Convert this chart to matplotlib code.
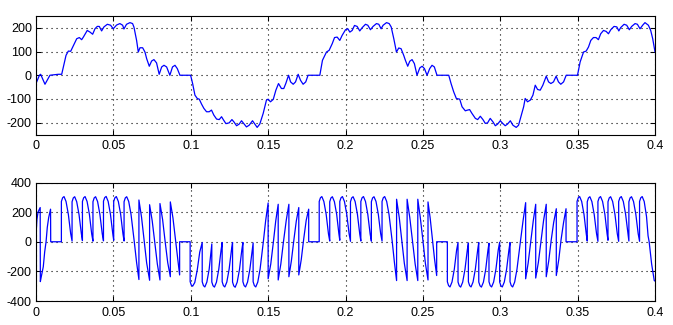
import numpy as np
import matplotlib
matplotlib.use("Agg")
import matplotlib.pyplot as plt

# Load current (top trace) as (time s, value) vertices
current_pts = [
    (0.0000, -35), (0.0022, 0), (0.0030, 4), (0.0058, -38), (0.0090, 0), (0.0144, 4), (0.0166, 4),
    (0.0194, 84), (0.0209, 102), (0.0224, 101), (0.0237, 119), (0.0263, 154), (0.0280, 159),
    (0.0295, 150), (0.0306, 161), (0.0331, 189), (0.0349, 182), (0.0366, 173), (0.0381, 196),
    (0.0396, 206), (0.0409, 206), (0.0424, 187), (0.0439, 204), (0.0461, 215), (0.0482, 211),
    (0.0499, 196), (0.0521, 212), (0.0542, 218), (0.0560, 211), (0.0568, 195), (0.0585, 215),
    (0.0607, 222), (0.0624, 218), (0.0633, 203), (0.0650, 147), (0.0661, 98), (0.0672, 116),
    (0.0689, 116), (0.0704, 98), (0.0715, 70), (0.0732, 38), (0.0747, 60), (0.0762, 66),
    (0.0779, 52), (0.0796, 4), (0.0812, 35), (0.0827, 42), (0.0844, 35), (0.0865, 0),
    (0.0882, 35), (0.0898, 42), (0.0913, 28), (0.0930, 0), (0.0999, 0),
    (0.1012, -35), (0.1027, -84), (0.1042, -98), (0.1055, -101), (0.1070, -122), (0.1085, -140),
    (0.1102, -154), (0.1119, -154), (0.1134, -147), (0.1149, -168), (0.1167, -185), (0.1184, -187),
    (0.1199, -175), (0.1210, -187), (0.1227, -204), (0.1248, -201), (0.1266, -187), (0.1279, -197),
    (0.1296, -213), (0.1313, -206), (0.1328, -192), (0.1343, -204), (0.1360, -218), (0.1377, -211),
    (0.1399, -192), (0.1414, -206), (0.1429, -220), (0.1446, -206), (0.1468, -161), (0.1489, -105),
    (0.1500, -101), (0.1515, -112), (0.1533, -102), (0.1550, -63), (0.1567, -35), (0.1586, -56),
    (0.1601, -56), (0.1614, -35), (0.1632, 0), (0.1645, -28), (0.1662, -38), (0.1677, -28),
    (0.1694, 4), (0.1709, -21), (0.1726, -38), (0.1743, -28), (0.1758, 0), (0.1834, 0),
    (0.1851, 63), (0.1877, 98), (0.1894, 105), (0.1914, 133), (0.1929, 159), (0.1946, 161),
    (0.1963, 147), (0.1978, 168), (0.2000, 192), (0.2015, 196), (0.2028, 182), (0.2043, 189),
    (0.2058, 210), (0.2075, 206), (0.2092, 187), (0.2108, 201), (0.2129, 215), (0.2144, 211),
    (0.2161, 192), (0.2178, 206), (0.2200, 218), (0.2215, 215), (0.2230, 196), (0.2243, 211),
    (0.2265, 222), (0.2282, 218), (0.2295, 204), (0.2312, 154), (0.2329, 98), (0.2344, 115),
    (0.2359, 112), (0.2376, 84), (0.2387, 63), (0.2402, 38), (0.2415, 59), (0.2430, 66),
    (0.2445, 49), (0.2462, 0), (0.2480, 31), (0.2495, 38), (0.2510, 28), (0.2527, 0),
    (0.2544, 28), (0.2559, 42), (0.2574, 35), (0.2591, 0), (0.2667, 0),
    (0.2682, -35), (0.2699, -70), (0.2716, -98), (0.2738, -101), (0.2753, -133), (0.2774, -150),
    (0.2789, -147), (0.2802, -145), (0.2817, -161), (0.2839, -182), (0.2854, -187), (0.2871, -173),
    (0.2888, -187), (0.2903, -203), (0.2918, -201), (0.2935, -182), (0.2953, -197), (0.2968, -213),
    (0.2983, -206), (0.3000, -192), (0.3017, -204), (0.3032, -213), (0.3047, -206), (0.3065, -192),
    (0.3082, -211), (0.3103, -220), (0.3118, -211), (0.3133, -175), (0.3151, -133), (0.3161, -98),
    (0.3176, -112), (0.3194, -105), (0.3211, -84), (0.3226, -42), (0.3241, -60), (0.3258, -63),
    (0.3275, -42), (0.3297, -4), (0.3312, -28), (0.3327, -35), (0.3344, -28), (0.3361, -4),
    (0.3376, -28), (0.3391, -38), (0.3409, -28), (0.3426, 0), (0.3499, 0),
    (0.3516, 56), (0.3538, 98), (0.3555, 102), (0.3570, 119), (0.3585, 147), (0.3602, 159),
    (0.3619, 159), (0.3634, 150), (0.3649, 175), (0.3667, 189), (0.3684, 185), (0.3699, 175),
    (0.3714, 192), (0.3735, 206), (0.3753, 204), (0.3766, 187), (0.3778, 201), (0.3800, 215),
    (0.3817, 211), (0.3834, 192), (0.3849, 206), (0.3871, 218), (0.3886, 215), (0.3903, 196),
    (0.3920, 211), (0.3935, 222), (0.3957, 211), (0.3972, 189), (0.3985, 154), (0.4000, 98),
]

# Output voltage (bottom trace), split by region, (time s, value) vertices
v_start = [
    (0.0000, 0), (0.0002, 80), (0.0006, 150), (0.0013, 200), (0.0027, 231), (0.0028, -269),
    (0.0034, -236), (0.0047, -169), (0.0056, -69), (0.0065, 0), (0.0073, 98), (0.0082, 164),
    (0.0094, 220), (0.0095, 0), (0.0164, 0),
]
v_pos1 = [
    (0.0164, 272), (0.0172, 297), (0.0181, 305), (0.0194, 272), (0.0209, 185), (0.0224, 55), (0.0233, 5),
    (0.0233, 270), (0.0241, 296), (0.0250, 304), (0.0263, 270), (0.0278, 184), (0.0293, 55), (0.0300, 8),
    (0.0300, 272), (0.0308, 297), (0.0317, 305), (0.0330, 272), (0.0345, 185), (0.0360, 52), (0.0368, 4),
    (0.0368, 270), (0.0376, 296), (0.0385, 304), (0.0398, 271), (0.0413, 184), (0.0428, 54), (0.0436, 6),
    (0.0436, 274), (0.0444, 298), (0.0453, 306), (0.0466, 273), (0.0481, 186), (0.0496, 55), (0.0502, 10),
    (0.0502, 272), (0.0510, 297), (0.0519, 305), (0.0532, 272), (0.0547, 185), (0.0562, 52), (0.0569, 5),
    (0.0569, 270), (0.0577, 296), (0.0586, 304), (0.0599, 272), (0.0614, 185), (0.0629, 53),
    (0.0635, 0), (0.0650, -140), (0.0665, -255),
]
v_fall1 = [
    (0.0665, 282), (0.0682, 165), (0.0698, 15), (0.0715, -143), (0.0734, -260),
    (0.0734, 250), (0.0751, 140), (0.0767, 0), (0.0784, -150), (0.0801, -258),
    (0.0801, 258), (0.0818, 150), (0.0834, 5), (0.0851, -140), (0.0868, -236),
    (0.0868, 269), (0.0885, 160), (0.0901, 15), (0.0916, -120), (0.0928, -224),
    (0.0928, 0), (0.0996, 0),
]
v_neg1 = [
    (0.0996, -269), (0.1003, -292), (0.1012, -300), (0.1026, -275), (0.1042, -190), (0.1058, -70), (0.1074, -5),
    (0.1074, -270), (0.1082, -296), (0.1091, -305), (0.1104, -272), (0.1119, -185), (0.1132, -60), (0.1136, -15),
    (0.1136, -272), (0.1144, -297), (0.1153, -306), (0.1166, -273), (0.1181, -186), (0.1196, -55), (0.1203, -5),
    (0.1203, -270), (0.1211, -296), (0.1220, -305), (0.1233, -272), (0.1248, -185), (0.1263, -55), (0.1270, -5),
    (0.1270, -272), (0.1278, -298), (0.1287, -307), (0.1300, -273), (0.1315, -186), (0.1330, -55), (0.1337, -5),
    (0.1337, -270), (0.1345, -296), (0.1354, -305), (0.1367, -272), (0.1382, -185), (0.1397, -55), (0.1403, -8),
    (0.1403, -270), (0.1411, -296), (0.1420, -305), (0.1433, -272), (0.1448, -185), (0.1463, -55),
    (0.1469, 0), (0.1484, 143), (0.1500, 262),
]
v_rise1 = [
    (0.1500, -250), (0.1517, -150), (0.1533, -10), (0.1549, 140), (0.1565, 253),
    (0.1565, -258), (0.1582, -150), (0.1599, 0), (0.1617, 145), (0.1634, 253),
    (0.1634, -236), (0.1650, -130), (0.1666, 10), (0.1682, 140), (0.1698, 231),
    (0.1698, -224), (0.1714, -120), (0.1730, 20), (0.1746, 145), (0.1762, 220),
    (0.1762, 0), (0.1830, 0),
]
v_pos2 = [
    (0.1830, 272), (0.1838, 297), (0.1847, 305), (0.1860, 272), (0.1875, 185), (0.1890, 52), (0.1898, 5),
    (0.1898, 270), (0.1906, 296), (0.1915, 304), (0.1928, 271), (0.1943, 184), (0.1957, 55), (0.1963, 10),
    (0.1963, 272), (0.1971, 297), (0.1980, 305), (0.1993, 272), (0.2008, 185), (0.2023, 55), (0.2032, 3),
    (0.2032, 270), (0.2040, 296), (0.2049, 304), (0.2062, 272), (0.2077, 185), (0.2092, 52), (0.2099, 5),
    (0.2099, 272), (0.2107, 297), (0.2116, 305), (0.2129, 272), (0.2144, 185), (0.2159, 53), (0.2167, 4),
    (0.2167, 270), (0.2175, 296), (0.2184, 304), (0.2197, 272), (0.2212, 185), (0.2227, 55), (0.2236, 5),
    (0.2236, 272), (0.2244, 297), (0.2253, 305), (0.2266, 272), (0.2281, 185), (0.2296, 53),
    (0.2302, 0), (0.2316, -140), (0.2330, -262),
]
v_fall2 = [
    (0.2330, 287), (0.2347, 165), (0.2363, 15), (0.2380, -145), (0.2398, -262),
    (0.2398, 287), (0.2415, 165), (0.2432, 10), (0.2450, -150), (0.2467, -262),
    (0.2467, 287), (0.2483, 165), (0.2500, 10), (0.2516, -145), (0.2533, -258),
    (0.2533, 269), (0.2547, 160), (0.2561, 20), (0.2575, -115), (0.2589, -228),
    (0.2589, 0), (0.2658, 0),
]
v_neg2 = [
    (0.2658, -270), (0.2666, -296), (0.2675, -305), (0.2688, -272), (0.2703, -185), (0.2718, -55), (0.2727, -5),
    (0.2727, -272), (0.2735, -297), (0.2744, -306), (0.2757, -273), (0.2772, -186), (0.2787, -55), (0.2794, -8),
    (0.2794, -270), (0.2802, -296), (0.2811, -305), (0.2824, -272), (0.2839, -185), (0.2854, -55), (0.2861, -5),
    (0.2861, -272), (0.2869, -297), (0.2878, -306), (0.2891, -273), (0.2906, -186), (0.2920, -60), (0.2927, -10),
    (0.2927, -270), (0.2935, -296), (0.2944, -305), (0.2957, -272), (0.2972, -185), (0.2987, -55), (0.2996, -3),
    (0.2996, -272), (0.3004, -297), (0.3013, -305), (0.3026, -272), (0.3041, -185), (0.3056, -55), (0.3063, -5),
    (0.3063, -270), (0.3071, -296), (0.3080, -305), (0.3093, -272), (0.3108, -185), (0.3123, -55),
    (0.3130, 0), (0.3147, 140), (0.3164, 264),
]
v_rise2 = [
    (0.3164, -250), (0.3180, -145), (0.3196, -5), (0.3213, 140), (0.3229, 253),
    (0.3229, -245), (0.3246, -140), (0.3263, 5), (0.3280, 145), (0.3297, 253),
    (0.3297, -236), (0.3313, -130), (0.3329, 10), (0.3345, 130), (0.3362, 223),
    (0.3362, -228), (0.3378, -120), (0.3393, 15), (0.3409, 130), (0.3425, 223),
    (0.3425, 0), (0.3496, 0),
]
v_pos3 = [
    (0.3496, 272), (0.3504, 297), (0.3513, 305), (0.3526, 272), (0.3541, 185), (0.3556, 50), (0.3562, 5),
    (0.3562, 270), (0.3570, 296), (0.3579, 304), (0.3592, 271), (0.3607, 184), (0.3622, 55), (0.3631, 3),
    (0.3631, 272), (0.3639, 297), (0.3648, 305), (0.3661, 272), (0.3676, 185), (0.3690, 55), (0.3696, 10),
    (0.3696, 270), (0.3704, 296), (0.3713, 304), (0.3726, 272), (0.3741, 185), (0.3756, 55), (0.3765, 3),
    (0.3765, 272), (0.3773, 297), (0.3782, 305), (0.3795, 272), (0.3810, 185), (0.3825, 53), (0.3831, 5),
    (0.3831, 270), (0.3839, 296), (0.3848, 304), (0.3861, 272), (0.3876, 185), (0.3891, 55), (0.3900, 3),
    (0.3900, 272), (0.3908, 297), (0.3917, 305), (0.3930, 272), (0.3945, 170), (0.3955, 40),
    (0.3962, 0), (0.3978, -150), (0.3995, -262), (0.4000, -265),
]

x_ticks = [0, 0.05, 0.1, 0.15, 0.2, 0.25, 0.3, 0.35, 0.4]
x_labels = ['0', '0.05', '0.1', '0.15', '0.2', '0.25', '0.3', '0.35', '0.4']
y_ticks_top = [-200, -100, 0, 100, 200]
y_ticks_bottom = [-400, -200, 0, 200, 400]

cur = np.array(current_pts)
volt = np.array(v_start + v_pos1 + v_fall1 + v_neg1 + v_rise1 + v_pos2
                + v_fall2 + v_neg2 + v_rise2 + v_pos3)

plt.rcParams['font.family'] = ['Liberation Sans', 'DejaVu Sans']
plt.rcParams['axes.unicode_minus'] = False

fig, (ax1, ax2) = plt.subplots(2, 1, figsize=(6.73, 3.25), dpi=100)
fig.subplots_adjust(left=0.0535, right=0.9733, top=0.9508, bottom=0.0738, hspace=0.405)

ax1.plot(cur[:, 0], cur[:, 1], color='#0000ff', linewidth=0.9)
ax1.set_ylim(-250, 250)
ax1.set_yticks(y_ticks_top)

ax2.plot(volt[:, 0], volt[:, 1], color='#0000ff', linewidth=0.9)
ax2.set_ylim(-400, 400)
ax2.set_yticks(y_ticks_bottom)

for ax in (ax1, ax2):
    ax.set_xlim(0, 0.4)
    ax.set_xticks(x_ticks)
    ax.set_xticklabels(x_labels)
    ax.grid(True, color='black', linestyle=(0, (1, 3.5)), linewidth=0.8)
    ax.tick_params(direction='in', top=True, right=True, length=3.5, width=0.75,
                   labelsize=9, colors='black')
    ax.tick_params(axis='x', pad=4)
    ax.tick_params(axis='y', pad=3)
    for s in ax.spines.values():
        s.set_linewidth(0.8)
        s.set_color('black')

plt.savefig('out.png', dpi=100)
